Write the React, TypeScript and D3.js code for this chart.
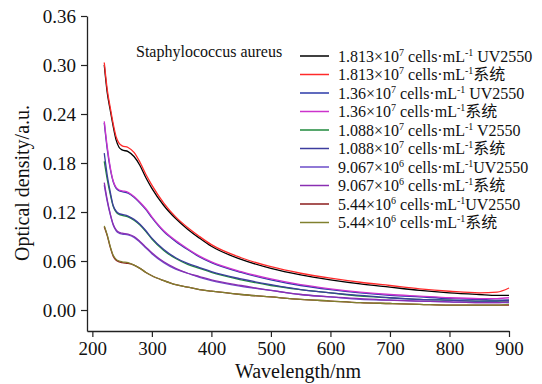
import React, { useEffect, useRef } from "react";
import * as d3 from "d3";

// wavelength grid (nm)
const wavelengths = [220, 225, 230, 235, 240, 245, 250, 260, 270, 280, 290, 300, 320, 340, 360, 380, 400, 450, 500, 550, 600, 650, 700, 750, 800, 850, 880, 900];

// optical density per series
const od1813UV = [0.300, 0.266, 0.245, 0.225, 0.208, 0.199, 0.196, 0.194, 0.188, 0.177, 0.162, 0.149, 0.128, 0.112, 0.099, 0.088, 0.078, 0.062, 0.051, 0.043, 0.037, 0.032, 0.028, 0.024, 0.021, 0.019, 0.018, 0.018];
const od1813Sys = [0.303, 0.270, 0.248, 0.228, 0.212, 0.204, 0.201, 0.199, 0.193, 0.181, 0.166, 0.153, 0.131, 0.114, 0.101, 0.090, 0.080, 0.064, 0.053, 0.045, 0.039, 0.034, 0.030, 0.026, 0.023, 0.021, 0.022, 0.027];
const od136UV = [0.229, 0.197, 0.173, 0.157, 0.149, 0.146, 0.145, 0.143, 0.138, 0.131, 0.123, 0.113, 0.096, 0.084, 0.074, 0.065, 0.058, 0.046, 0.037, 0.030, 0.025, 0.021, 0.018, 0.016, 0.014, 0.013, 0.012, 0.012];
const od136Sys = [0.231, 0.200, 0.175, 0.158, 0.150, 0.147, 0.146, 0.144, 0.139, 0.132, 0.124, 0.114, 0.097, 0.085, 0.075, 0.066, 0.059, 0.047, 0.038, 0.031, 0.026, 0.022, 0.019, 0.017, 0.015, 0.014, 0.014, 0.015];
const od1088UV = [0.182, 0.160, 0.142, 0.127, 0.120, 0.117, 0.116, 0.114, 0.110, 0.104, 0.096, 0.087, 0.073, 0.063, 0.056, 0.051, 0.046, 0.037, 0.030, 0.025, 0.021, 0.017, 0.015, 0.013, 0.012, 0.011, 0.011, 0.011];
const od1088Sys = [0.192, 0.165, 0.145, 0.128, 0.121, 0.118, 0.117, 0.115, 0.111, 0.105, 0.097, 0.088, 0.074, 0.064, 0.057, 0.052, 0.047, 0.038, 0.031, 0.025, 0.021, 0.018, 0.015, 0.013, 0.012, 0.011, 0.011, 0.012];
const od9067UV = [0.153, 0.133, 0.117, 0.104, 0.097, 0.094, 0.093, 0.092, 0.089, 0.083, 0.076, 0.069, 0.058, 0.050, 0.045, 0.040, 0.036, 0.029, 0.024, 0.019, 0.016, 0.013, 0.012, 0.011, 0.010, 0.009, 0.009, 0.009];
const od9067Sys = [0.156, 0.135, 0.118, 0.105, 0.098, 0.095, 0.094, 0.093, 0.090, 0.084, 0.077, 0.070, 0.059, 0.051, 0.045, 0.041, 0.037, 0.030, 0.024, 0.019, 0.016, 0.014, 0.012, 0.011, 0.010, 0.009, 0.009, 0.010];
const od544UV = [0.102, 0.091, 0.077, 0.066, 0.061, 0.059, 0.058, 0.057, 0.055, 0.051, 0.046, 0.042, 0.036, 0.031, 0.028, 0.025, 0.023, 0.019, 0.016, 0.013, 0.011, 0.009, 0.008, 0.007, 0.006, 0.006, 0.006, 0.006];
const od544Sys = [0.103, 0.092, 0.078, 0.067, 0.062, 0.060, 0.059, 0.058, 0.055, 0.051, 0.046, 0.042, 0.036, 0.031, 0.028, 0.025, 0.023, 0.019, 0.016, 0.013, 0.011, 0.009, 0.008, 0.007, 0.006, 0.006, 0.006, 0.007];

const seriesValues = [od1813UV, od1813Sys, od136UV, od136Sys, od1088UV, od1088Sys, od9067UV, od9067Sys, od544UV, od544Sys];
const seriesColors = ["#000000", "#ff2a2a", "#2b3aa8", "#cc33cc", "#1f8a3c", "#3d3d9e", "#6b4cc9", "#8a2eb2", "#8b1c1c", "#80802e"];

// legend text pieces
const legendCoef = ["1.813×10", "1.813×10", "1.36×10", "1.36×10", "1.088×10", "1.088×10", "9.067×10", "9.067×10", "5.44×10", "5.44×10"];
const legendExp = ["7", "7", "7", "7", "7", "7", "6", "6", "6", "6"];
const legendUnit = [" cells·mL", " cells·mL", " cells·mL", "  cells·mL", " cells·mL", " cells·mL", " cells·mL", " cells·mL", " cells·mL", " cells·mL"];
const legendSuffix = [" UV2550", "系统", " UV2550", "系统", " V2550", "系统", "UV2550", "系统", "UV2550", "系统"];

const yTicks = [0, 0.06, 0.12, 0.18, 0.24, 0.30, 0.36];
const xTicks = [200, 300, 400, 500, 600, 700, 800, 900];

const W = 542, H = 384;
const left = 87, right = 509, top = 16, bottom = 331;
const serif = "'Liberation Serif', 'Times New Roman', 'Noto Sans CJK SC', serif";

export default function App() {
  const xAxisRef = useRef<SVGGElement>(null);
  const yAxisRef = useRef<SVGGElement>(null);

  const x = d3.scaleLinear().domain([191, 900]).range([left, right]);
  const y = d3.scaleLinear().domain([-0.0257, 0.36]).range([bottom, top]);

  const line = d3
    .line<number>()
    .x((d, i) => x(wavelengths[i]))
    .y(d => y(d))
    .curve(d3.curveMonotoneX);

  useEffect(() => {
    const xa = d3.select(xAxisRef.current!);
    xa.call(d3.axisBottom(x).tickValues(xTicks).tickSize(6).tickSizeOuter(0).tickPadding(5).tickFormat(d3.format("d")) as any);
    const ya = d3.select(yAxisRef.current!);
    ya.call(d3.axisLeft(y).tickValues(yTicks).tickSize(6).tickSizeOuter(0).tickPadding(5).tickFormat(d3.format(".2f")) as any);
    [xa, ya].forEach(a => {
      a.select(".domain").attr("stroke", "#222").attr("stroke-width", 1.3);
      a.selectAll(".tick line").attr("stroke", "#222").attr("stroke-width", 1.2);
      a.selectAll(".tick text").attr("fill", "#111").style("font-family", serif).style("font-size", "19px");
    });
  }, []);

  return (
    <svg width={W} height={H} style={{ position: "absolute", left: 0, top: 0, background: "#fff" }}>
      <g>
        {seriesValues.map((vals, i) => (
          <path key={i} d={line(vals) || ""} fill="none" stroke={seriesColors[i]} strokeWidth={1.3} />
        ))}
      </g>
      <g ref={xAxisRef} transform={`translate(0,${bottom})`} />
      <g ref={yAxisRef} transform={`translate(${left},0)`} />

      <text x={(left + right) / 2} y={378} textAnchor="middle" fontFamily={serif} fontSize={20} fill="#111">
        Wavelength/nm
      </text>
      <text transform={`translate(29,183) rotate(-90)`} textAnchor="middle" fontFamily={serif} fontSize={20} fill="#111">
        Optical density/a.u.
      </text>

      <text x={136} y={57} fontFamily={serif} fontSize={16} fill="#111">
        Staphylococcus aureus
      </text>

      <g fontFamily={serif} fontSize={16} fill="#111">
        {legendCoef.map((c, i) => {
          const ly = 56 + i * 18.5;
          return (
            <g key={i}>
              <line x1={300} x2={329} y1={ly} y2={ly} stroke={seriesColors[i]} strokeWidth={1.5} />
              <text x={338} y={ly + 5.5}>
                {c}
                <tspan fontSize={10} dy={-6}>{legendExp[i]}</tspan>
                <tspan dy={6}>{legendUnit[i]}</tspan>
                <tspan fontSize={10} dy={-6}>-1</tspan>
                <tspan dy={6}>{legendSuffix[i]}</tspan>
              </text>
            </g>
          );
        })}
      </g>
    </svg>
  );
}
